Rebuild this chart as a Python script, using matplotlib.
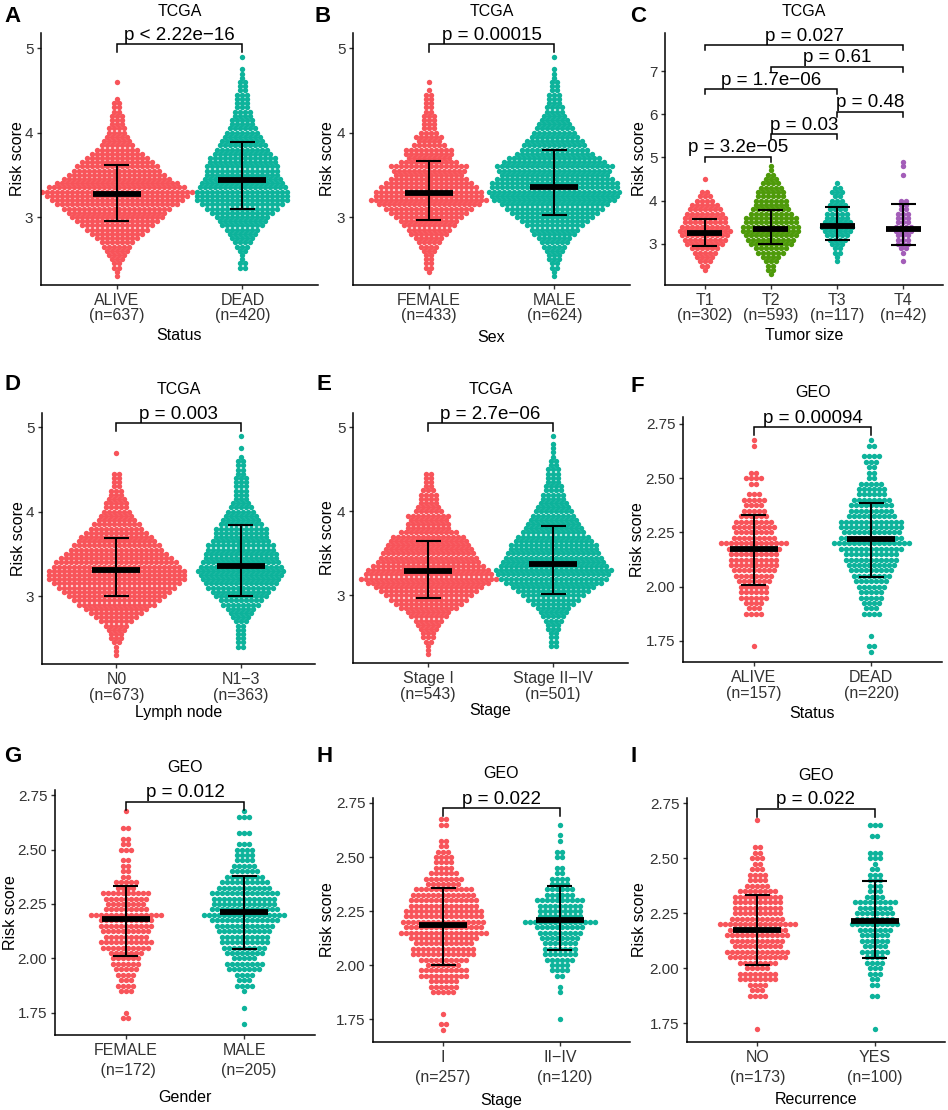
import numpy as np
import matplotlib
matplotlib.use("Agg")
import matplotlib.pyplot as plt

plt.rcParams['font.family'] = ['Liberation Sans', 'DejaVu Sans']

RED = "#F8545A"
TEAL = "#0DB39B"
GREEN = "#4E9A0A"
PURPLE = "#A35DB8"
MINUS = "\u2212"

# ---------------- data: points per row of the swarm ----------------
# TCGA panels A, B, D, E: rows every 0.05 ; panel C: rows every 0.1 ; GEO panels: rows every 0.025

A_ALIVE_START = 2.30
A_ALIVE = [1, 1, 2, 2, 3, 4, 5, 6, 7, 9, 11, 13, 15, 17, 19, 20, 22, 25, 27, 29, 31, 28, 25, 22,
           20, 18, 17, 15, 13, 11, 9, 7, 6, 5, 4, 4, 3, 3, 3, 2, 2, 2, 1, 0, 0, 0, 1]
A_DEAD_START = 2.40
A_DEAD = [2, 2, 1, 1, 2, 3, 4, 5, 6, 7, 9, 10, 11, 13, 15, 17, 19, 19, 19, 18, 17, 16, 15, 15, 15,
          14, 14, 12, 11, 10, 9, 8, 7, 6, 5, 5, 4, 4, 3, 3, 3, 3, 2, 2, 2, 1, 1, 1, 0, 0, 1]

B_FEMALE_START = 2.35
B_FEMALE = [1, 2, 2, 2, 2, 3, 4, 5, 6, 8, 9, 11, 12, 14, 16, 18, 21, 24, 22, 22, 20, 18, 16, 14,
            15, 16, 12, 9, 10, 10, 7, 5, 6, 4, 3, 3, 3, 3, 2, 2, 2, 2, 2, 1, 0, 1]
B_MALE_START = 2.30
B_MALE = [1, 1, 2, 2, 3, 3, 4, 5, 6, 7, 9, 10, 12, 14, 16, 18, 20, 22, 25, 26, 27, 26, 26, 24, 22,
          23, 24, 21, 19, 16, 14, 13, 12, 10, 9, 8, 7, 6, 5, 4, 4, 3, 3, 3, 2, 2, 2, 1, 1, 1, 0, 0, 1]

C_T1_START = 2.4
C_T1 = [1, 2, 3, 4, 5, 6, 8, 9, 10, 11, 10, 9, 9, 8, 7, 6, 4, 3, 2, 0, 0, 1]
C_T2_START = 2.3
C_T2 = [1, 2, 2, 3, 4, 6, 7, 9, 10, 11, 12, 12, 11, 11, 9, 8, 7, 7, 6, 6, 5, 4, 3, 2, 1, 1]
C_T3_START = 2.6
C_T3 = [1, 1, 2, 2, 3, 4, 5, 6, 7, 6, 5, 5, 4, 4, 3, 2, 3, 2, 1]
C_T4_START = 2.6
C_T4 = [1, 0, 1, 2, 3, 3, 3, 4, 4, 3, 3, 3, 2, 2, 2, 0, 0, 0, 0, 0, 1, 0, 1, 1]

D_N0_START = 2.30
D_N0 = [1, 1, 1, 2, 3, 3, 4, 5, 7, 9, 11, 13, 16, 18, 20, 22, 24, 26, 28, 28, 28, 26, 25, 23, 21,
        19, 18, 16, 15, 13, 11, 10, 8, 7, 6, 5, 5, 4, 3, 3, 2, 2, 2, 2, 0, 0, 0, 0, 1]
D_N13_START = 2.40
D_N13 = [2, 2, 2, 2, 2, 2, 3, 4, 5, 6, 8, 9, 11, 12, 14, 15, 16, 17, 18, 17, 16, 15, 15, 14, 14,
         12, 11, 11, 11, 9, 8, 7, 6, 5, 4, 3, 3, 3, 3, 3, 3, 2, 2, 2, 2, 1, 0, 1, 0, 0, 1]

E_S1_START = 2.30
E_S1 = [1, 1, 1, 2, 3, 3, 4, 5, 6, 8, 9, 12, 14, 16, 18, 20, 22, 25, 28, 26, 25, 23, 21, 20, 19,
        18, 17, 16, 15, 12, 9, 9, 8, 9, 6, 5, 4, 4, 4, 3, 2, 2, 2, 2]
E_S24_START = 2.40
E_S24 = [2, 2, 2, 2, 3, 3, 4, 5, 6, 7, 9, 11, 13, 15, 17, 20, 22, 23, 24, 22, 21, 20, 19, 18, 18,
         16, 15, 13, 12, 11, 10, 9, 8, 7, 6, 5, 5, 4, 4, 3, 3, 3, 3, 2, 2, 1, 1, 1, 1, 0, 1]

F_ALIVE_START = 1.725
F_ALIVE = [1, 0, 0, 0, 0, 0, 4, 3, 4, 6, 6, 6, 7, 8, 9, 10, 10, 10, 11, 14, 9, 8, 9, 8, 6, 5, 4, 5,
           3, 0, 2, 4, 2, 0, 0, 0, 0, 1, 1]
F_DEAD_START = 1.700
F_DEAD = [1, 2, 0, 1, 0, 0, 0, 4, 3, 4, 5, 5, 6, 7, 8, 9, 10, 11, 11, 13, 16, 13, 12, 13, 13, 10,
          9, 9, 8, 6, 6, 5, 2, 2, 2, 3, 4, 0, 2, 1]

G_FEMALE_START = 1.725
G_FEMALE = [2, 1, 0, 0, 0, 3, 4, 3, 4, 5, 6, 6, 7, 10, 11, 9, 10, 11, 11, 15, 9, 8, 9, 10, 4, 5,
            2, 2, 2, 2, 0, 3, 2, 2, 0, 2, 0, 0, 1]
G_MALE_START = 1.700
G_MALE = [1, 0, 0, 1, 0, 0, 1, 4, 3, 4, 7, 8, 5, 8, 9, 10, 10, 11, 12, 14, 17, 14, 13, 13, 14, 11,
          10, 8, 6, 5, 4, 4, 4, 3, 0, 3, 0, 0, 3, 1]

H_S1_START = 1.700
H_S1 = [1, 2, 0, 1, 0, 0, 0, 5, 6, 6, 10, 10, 7, 10, 13, 13, 12, 14, 18, 16, 17, 16, 16, 14, 14,
        13, 12, 7, 8, 6, 4, 4, 4, 3, 2, 2, 0, 0, 2, 2]
H_S24_START = 1.750
H_S24 = [1, 0, 0, 0, 0, 1, 1, 0, 2, 4, 4, 6, 7, 7, 7, 8, 9, 10, 15, 9, 9, 9, 10, 6, 6, 4, 4, 2, 2,
         0, 2, 2, 0, 1, 1, 0, 1]

I_NO_START = 1.725
I_NO = [1, 0, 0, 0, 0, 0, 4, 3, 4, 8, 8, 5, 8, 12, 13, 10, 11, 13, 12, 16, 11, 10, 10, 10, 10, 8,
        5, 4, 4, 3, 2, 3, 2, 2, 0, 0, 0, 0, 1]
I_YES_START = 1.725
I_YES = [1, 0, 0, 0, 0, 0, 2, 0, 2, 2, 3, 3, 4, 4, 6, 5, 6, 6, 7, 10, 8, 8, 7, 9, 4, 3, 3, 3, 3, 2,
         1, 3, 3, 0, 0, 2, 0, 3]

# mean and mean +/- sd
A_MEAN, A_LO, A_HI = [3.276, 3.44], [2.95, 3.09], [3.62, 3.89]
B_MEAN, B_LO, B_HI = [3.28, 3.36], [2.96, 3.02], [3.66, 3.79]
C_MEAN, C_LO, C_HI = [3.25, 3.35, 3.42, 3.35], [2.95, 3.00, 3.08, 2.98], [3.58, 3.78, 3.85, 3.93]
D_MEAN, D_LO, D_HI = [3.31, 3.36], [3.00, 3.00], [3.69, 3.84]
E_MEAN, E_LO, E_HI = [3.29, 3.37], [2.97, 3.02], [3.65, 3.83]
F_MEAN, F_LO, F_HI = [2.172, 2.218], [2.007, 2.046], [2.329, 2.388]
G_MEAN, G_LO, G_HI = [2.181, 2.213], [2.010, 2.043], [2.334, 2.380]
H_MEAN, H_LO, H_HI = [2.184, 2.210], [2.002, 2.068], [2.355, 2.364]
I_MEAN, I_LO, I_HI = [2.174, 2.214], [2.012, 2.047], [2.332, 2.398]

A_CATS = ["ALIVE\n(n=637)", "DEAD\n(n=420)"]
B_CATS = ["FEMALE\n(n=433)", "MALE\n(n=624)"]
C_CATS = ["T1\n(n=302)", "T2\n(n=593)", "T3\n(n=117)", "T4\n(n=42)"]
D_CATS = ["N0\n(n=673)", "N1" + MINUS + "3\n(n=363)"]
E_CATS = ["Stage I\n(n=543)", "Stage II" + MINUS + "IV\n(n=501)"]
F_CATS = ["ALIVE\n(n=157)", "DEAD\n(n=220)"]
G_CATS = ["FEMALE\n (n=172)", "MALE\n  (n=205)"]
H_CATS = ["I\n(n=257)", "II" + MINUS + "IV\n  (n=120)"]
I_CATS = ["NO\n(n=173)", "YES\n(n=100)"]

# comparisons: (group a, group b, bracket height, label)
A_P = [(0, 1, 5.05, "p < 2.22e" + MINUS + "16")]
B_P = [(0, 1, 5.05, "p = 0.00015")]
C_P = [(0, 3, 7.60, "p = 0.027"), (1, 3, 7.10, "p = 0.61"), (0, 2, 6.58, "p = 1.7e" + MINUS + "06"),
       (2, 3, 6.06, "p = 0.48"), (1, 2, 5.54, "p = 0.03"), (0, 1, 5.02, "p = 3.2e" + MINUS + "05")]
D_P = [(0, 1, 5.05, "p = 0.003")]
E_P = [(0, 1, 5.05, "p = 2.7e" + MINUS + "06")]
F_P = [(0, 1, 2.735, "p = 0.00094")]
G_P = [(0, 1, 2.720, "p = 0.012")]
H_P = [(0, 1, 2.727, "p = 0.022")]
I_P = [(0, 1, 2.724, "p = 0.022")]

TCGA_TICKS = [3, 4, 5]
C_TICKS = [3, 4, 5, 6, 7]
GEO_TICKS = [1.75, 2.00, 2.25, 2.50, 2.75]

# ---------------- layout (pixels of a 948 x 1110 canvas) ----------------
W, H = 948, 1110
fig = plt.figure(figsize=(W / 100, H / 100), dpi=100)

panels = [
    dict(letter="A", box=(41, 33, 318, 285), ylim=(2.195, 5.18), ticks=TCGA_TICKS, fmt="{:g}",
         groups=[(A_ALIVE_START, A_ALIVE, RED), (A_DEAD_START, A_DEAD, TEAL)], step=0.05,
         stats=(A_MEAN, A_LO, A_HI), cats=A_CATS, pvals=A_P, title="TCGA", xlabel="Status",
         title_y=12, xlabel_y=335, ylabel_x=18, lpos=(4, 16), ls=1.0),
    dict(letter="B", box=(353, 33, 630, 285), ylim=(2.195, 5.18), ticks=TCGA_TICKS, fmt="{:g}",
         groups=[(B_FEMALE_START, B_FEMALE, RED), (B_MALE_START, B_MALE, TEAL)], step=0.05,
         stats=(B_MEAN, B_LO, B_HI), cats=B_CATS, pvals=B_P, title="TCGA", xlabel="Sex",
         title_y=12, xlabel_y=337, ylabel_x=328, lpos=(314, 16), ls=1.0),
    dict(letter="C", box=(665, 33, 943, 285), ylim=(2.05, 7.88), ticks=C_TICKS, fmt="{:g}",
         groups=[(C_T1_START, C_T1, RED), (C_T2_START, C_T2, GREEN), (C_T3_START, C_T3, TEAL),
                 (C_T4_START, C_T4, PURPLE)], step=0.1,
         stats=(C_MEAN, C_LO, C_HI), cats=C_CATS, pvals=C_P, title="TCGA", xlabel="Tumor size",
         title_y=12, xlabel_y=335, ylabel_x=640, lpos=(630, 16), ls=1.0),
    dict(letter="D", box=(42, 413, 315, 664), ylim=(2.195, 5.17), ticks=TCGA_TICKS, fmt="{:g}",
         groups=[(D_N0_START, D_N0, RED), (D_N13_START, D_N13, TEAL)], step=0.05,
         stats=(D_MEAN, D_LO, D_HI), cats=D_CATS, pvals=D_P, title="TCGA", xlabel="Lymph node",
         title_y=390, xlabel_y=712, ylabel_x=19, lpos=(4, 385), ls=1.15),
    dict(letter="E", box=(353, 413, 628, 663), ylim=(2.195, 5.17), ticks=TCGA_TICKS, fmt="{:g}",
         groups=[(E_S1_START, E_S1, RED), (E_S24_START, E_S24, TEAL)], step=0.05,
         stats=(E_MEAN, E_LO, E_HI), cats=E_CATS, pvals=E_P, title="TCGA", xlabel="Stage",
         title_y=390, xlabel_y=710, ylabel_x=328, lpos=(316, 385), ls=1.15),
    dict(letter="F", box=(683, 417, 942, 662), ylim=(1.653, 2.782), ticks=GEO_TICKS, fmt="{:.2f}",
         groups=[(F_ALIVE_START, F_ALIVE, RED), (F_DEAD_START, F_DEAD, TEAL)], step=0.025,
         stats=(F_MEAN, F_LO, F_HI), cats=F_CATS, pvals=F_P, title="GEO", xlabel="Status",
         title_y=393, xlabel_y=713, ylabel_x=638, lpos=(630, 386), ls=1.1),
    dict(letter="G", box=(55, 790, 315, 1035), ylim=(1.649, 2.773), ticks=GEO_TICKS, fmt="{:.2f}",
         groups=[(G_FEMALE_START, G_FEMALE, RED), (G_MALE_START, G_MALE, TEAL)], step=0.025,
         stats=(G_MEAN, G_LO, G_HI), cats=G_CATS, pvals=G_P, title="GEO", xlabel="Gender",
         title_y=768, xlabel_y=1098, ylabel_x=11, lpos=(4, 757), ls=1.45),
    dict(letter="H", box=(373, 798, 630, 1042), ylim=(1.644, 2.773), ticks=GEO_TICKS, fmt="{:.2f}",
         groups=[(H_S1_START, H_S1, RED), (H_S24_START, H_S24, TEAL)], step=0.025,
         stats=(H_MEAN, H_LO, H_HI), cats=H_CATS, pvals=H_P, title="GEO", xlabel="Stage",
         title_y=773, xlabel_y=1100, ylabel_x=328, lpos=(316, 757), ls=1.45),
    dict(letter="I", box=(687, 798, 945, 1042), ylim=(1.664, 2.773), ticks=GEO_TICKS, fmt="{:.2f}",
         groups=[(I_NO_START, I_NO, RED), (I_YES_START, I_YES, TEAL)], step=0.025,
         stats=(I_MEAN, I_LO, I_HI), cats=I_CATS, pvals=I_P, title="GEO", xlabel="Recurrence",
         title_y=775, xlabel_y=1100, ylabel_x=640, lpos=(630, 757), ls=1.45),
]

DOT_PX = 5.0      # horizontal spacing of swarm dots
TICK_COLOR = "#333333"

for p in panels:
    l, t, r, b = p["box"]
    ax = fig.add_axes([l / W, 1 - b / H, (r - l) / W, (b - t) / H])
    n = len(p["groups"])
    xlim = (0.4, n + 0.6)
    ax.set_xlim(*xlim)
    ax.set_ylim(*p["ylim"])
    px_per_x = (r - l) / (xlim[1] - xlim[0])
    px_per_y = (b - t) / (p["ylim"][1] - p["ylim"][0])
    dx = DOT_PX / px_per_x

    # swarm
    for gi, (start, counts, color) in enumerate(p["groups"]):
        xs, ys = [], []
        for i, k in enumerate(counts):
            y = start + i * p["step"]
            for j in range(k):
                xs.append(gi + 1 + (j - (k - 1) / 2) * dx)
                ys.append(y)
        ax.scatter(xs, ys, s=15, color=color, linewidths=0, zorder=2)

    # mean +/- sd
    mean_w = 48 / px_per_x / 2 if n == 2 else 35 / px_per_x / 2
    cap_w = 25 / px_per_x / 2
    means, los, his = p["stats"]
    for gi in range(n):
        x = gi + 1
        ax.vlines(x, los[gi], his[gi], color="black", lw=1.5, zorder=3)
        ax.hlines([los[gi], his[gi]], x - cap_w, x + cap_w, color="black", lw=1.5, zorder=3)
        ax.hlines(means[gi], x - mean_w, x + mean_w, color="black", lw=4.2, zorder=4)

    # comparison brackets
    drop = (8 if n == 2 else 5) / px_per_y
    for a, c, yb, label in p["pvals"]:
        ax.plot([a + 1, a + 1, c + 1, c + 1], [yb - drop, yb, yb, yb - drop],
                color="black", lw=1.1, clip_on=False, zorder=5, solid_joinstyle="miter")
        ax.annotate(label, xy=((a + c) / 2 + 1, yb), xytext=(0, 0.3), textcoords="offset points",
                    ha="center", va="bottom", fontsize=13.5, annotation_clip=False)

    # axes styling
    for side in ("top", "right"):
        ax.spines[side].set_visible(False)
    for side in ("left", "bottom"):
        ax.spines[side].set_linewidth(1.1)
    ax.set_xticks(range(1, n + 1))
    ax.set_xticklabels(p["cats"], fontsize=11.5, color=TICK_COLOR, linespacing=p["ls"])
    ax.set_yticks(p["ticks"])
    ax.set_yticklabels([p["fmt"].format(v) for v in p["ticks"]], fontsize=11, color=TICK_COLOR)
    ax.tick_params(length=3, width=1, color=TICK_COLOR, pad=2.5)

    ax.set_xlabel(p["xlabel"], fontsize=11.5)
    ax.xaxis.set_label_coords(0.5, (b - p["xlabel_y"]) / (b - t))
    ax.xaxis.label.set_va("center")
    ax.set_ylabel("Risk score", fontsize=11.5)
    ax.yaxis.set_label_coords((p["ylabel_x"] - l) / (r - l), 0.5)
    ax.yaxis.label.set_va("center")

    fig.text((l + r) / 2 / W, 1 - p["title_y"] / H, p["title"], ha="center", va="center",
             fontsize=11.5)
    fig.text(p["lpos"][0] / W, 1 - p["lpos"][1] / H, p["letter"], ha="left", va="center",
             fontsize=16, fontweight="bold")

fig.savefig("out.png", dpi=100)
